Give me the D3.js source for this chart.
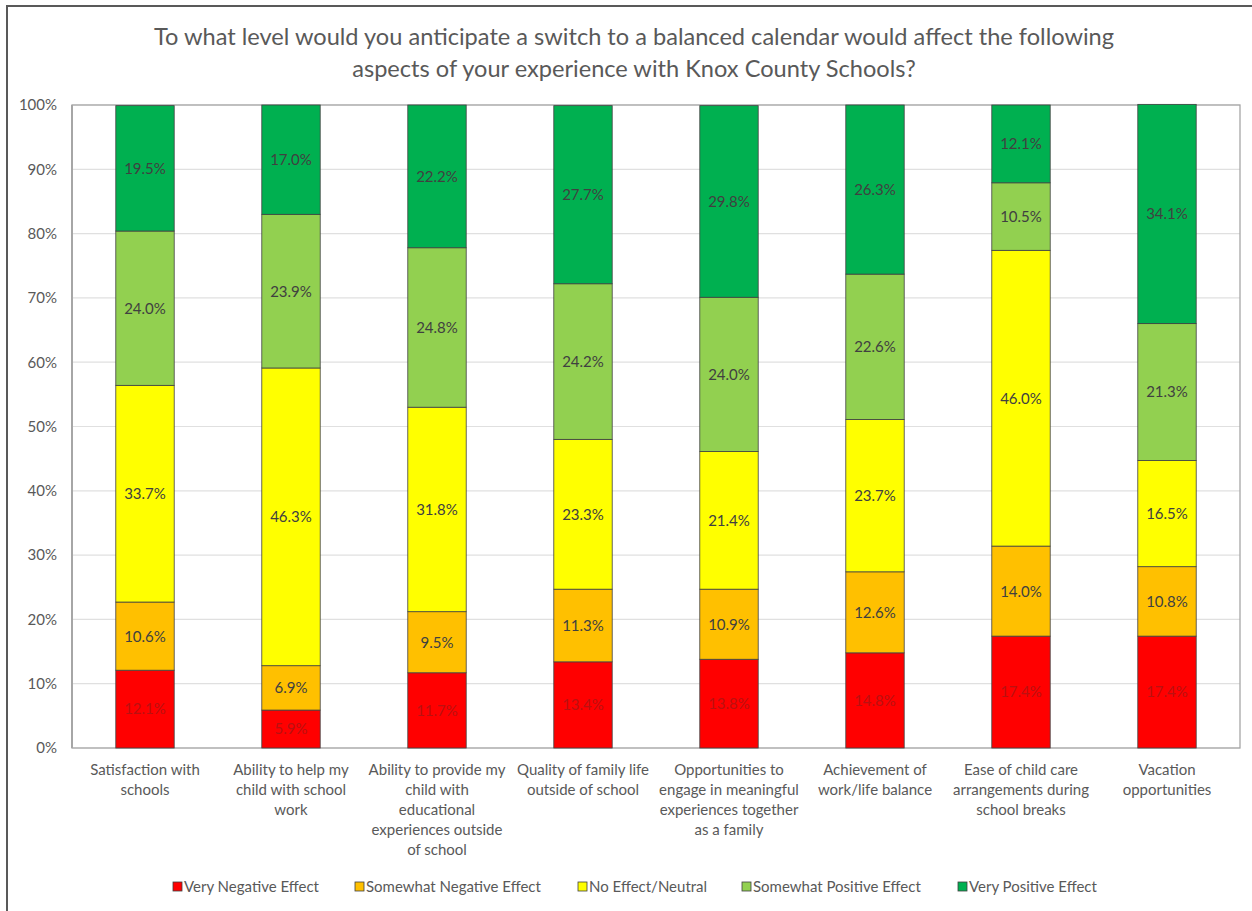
<!DOCTYPE html>
<html><head><meta charset="utf-8">
<script src="https://cdn.jsdelivr.net/npm/d3@7"></script>
<style>
html,body{margin:0;padding:0;background:#fff;}
svg{display:block;font-family:Lato,"Open Sans",sans-serif;}
</style></head>
<body>
<script>
const titleLines = ["To what level would you anticipate a switch to a balanced calendar would affect the following",
  "aspects of your experience with Knox County Schools?"];
const categories = [
  ["Satisfaction with","schools"],
  ["Ability to help my","child with school","work"],
  ["Ability to provide my","child with","educational","experiences outside","of school"],
  ["Quality of family life","outside of school"],
  ["Opportunities to","engage in meaningful","experiences together","as a family"],
  ["Achievement of","work/life balance"],
  ["Ease of child care","arrangements during","school breaks"],
  ["Vacation","opportunities"]
];
const seriesNames = ["Very Negative Effect","Somewhat Negative Effect","No Effect/Neutral","Somewhat Positive Effect","Very Positive Effect"];
const seriesColors = ["#FF0000","#FFC000","#FFFF00","#92D050","#00B050"];
const veryNegative     = [12.1, 5.9, 11.7, 13.4, 13.8, 14.8, 17.4, 17.4];
const somewhatNegative = [10.6, 6.9,  9.5, 11.3, 10.9, 12.6, 14.0, 10.8];
const neutral          = [33.7, 46.3, 31.8, 23.3, 21.4, 23.7, 46.0, 16.5];
const somewhatPositive = [24.0, 23.9, 24.8, 24.2, 24.0, 22.6, 10.5, 21.3];
const veryPositive     = [19.5, 17.0, 22.2, 27.7, 29.8, 26.3, 12.1, 34.1];
const yTicks = [0,10,20,30,40,50,60,70,80,90,100];

const W = 1252, H = 911;
const plot = {left:72, right:1240, top:105, bottom:748};
const fs = 15;

const svg = d3.select("body").append("svg").attr("width",W).attr("height",H);

// outer chart frame
svg.append("rect").attr("x",7).attr("y",6).attr("width",W+10).attr("height",H+10)
  .attr("fill","#fff").attr("stroke","#595959").attr("stroke-width",2);

// title
svg.append("g").selectAll("text").data(titleLines).join("text")
  .attr("x",634).attr("y",(d,i)=>45+i*32).attr("text-anchor","middle")
  .attr("font-size",23.6).attr("fill","#595959").text(d=>d);

const catIdx = categories.map((d,i)=>i);
const x = d3.scaleBand().domain(catIdx).range([plot.left,plot.right]).paddingInner(0.6).paddingOuter(0.3);
const y = d3.scaleLinear().domain([0,100]).range([plot.bottom,plot.top]);

// gridlines
svg.append("g").selectAll("line").data(yTicks).join("line")
  .attr("x1",plot.left).attr("x2",plot.right).attr("y1",d=>y(d)).attr("y2",d=>y(d))
  .attr("stroke","#e0e0e0").attr("stroke-width",1.2);

// y axis
const yAxis = svg.append("g").attr("transform",`translate(${plot.left},0)`)
  .call(d3.axisLeft(y).tickValues(yTicks).tickFormat(d=>d+"%").tickSize(0).tickPadding(15));
yAxis.select(".domain").remove();
yAxis.selectAll("text").attr("font-size",fs).attr("fill","#595959").attr("font-family","Lato");

// plot area border
svg.append("rect").attr("x",plot.left).attr("y",plot.top).attr("width",plot.right-plot.left).attr("height",plot.bottom-plot.top)
  .attr("fill","none").attr("stroke","#a6a6a6").attr("stroke-width",1.3);
svg.append("line").attr("x1",plot.left).attr("x2",plot.left).attr("y1",plot.top).attr("y2",plot.bottom)
  .attr("stroke","#a6a6a6").attr("stroke-width",2);

// stack
const table = catIdx.map(i=>({i, s0:veryNegative[i], s1:somewhatNegative[i], s2:neutral[i], s3:somewhatPositive[i], s4:veryPositive[i]}));
const stack = d3.stack().keys(["s0","s1","s2","s3","s4"])(table);

const layers = svg.append("g").selectAll("g").data(stack).join("g")
  .attr("fill",(d,k)=>seriesColors[k]);
layers.selectAll("rect").data(d=>d).join("rect")
  .attr("x",d=>x(d.data.i)).attr("width",x.bandwidth())
  .attr("y",d=>y(d[1])).attr("height",d=>y(d[0])-y(d[1]))
  .attr("stroke","#404040").attr("stroke-width",0.8);

// labels
const lbl = svg.append("g");
stack.forEach((layer,k)=>{
  lbl.selectAll(null).data(layer).join("text")
    .attr("x",d=>x(d.data.i)+x.bandwidth()/2)
    .attr("y",d=>(y(d[0])+y(d[1]))/2)
    .attr("dy","0.36em").attr("text-anchor","middle")
    .attr("font-size",fs)
    .attr("fill",k===0?"#bb1010":"#404040")
    .text(d=>(d[1]-d[0]).toFixed(1)+"%");
});

// category labels
const cg = svg.append("g");
categories.forEach((lines,i)=>{
  cg.append("text").attr("x",x(i)+x.bandwidth()/2).attr("text-anchor","middle")
    .attr("font-size",fs).attr("fill","#595959")
    .selectAll("tspan").data(lines).join("tspan")
    .attr("x",x(i)+x.bandwidth()/2).attr("y",(d,j)=>775+j*20).text(d=>d);
});

// legend
const legendX = [173,355,578,742,958];
const lg = svg.append("g");
seriesNames.forEach((n,k)=>{
  lg.append("rect").attr("x",legendX[k]).attr("y",882).attr("width",9).attr("height",9)
    .attr("fill",seriesColors[k]).attr("stroke","#404040").attr("stroke-width",0.8);
  lg.append("text").attr("x",legendX[k]+11).attr("y",887).attr("dy","0.36em")
    .attr("font-size",fs).attr("fill","#595959").text(n);
});
</script>
</body></html>
